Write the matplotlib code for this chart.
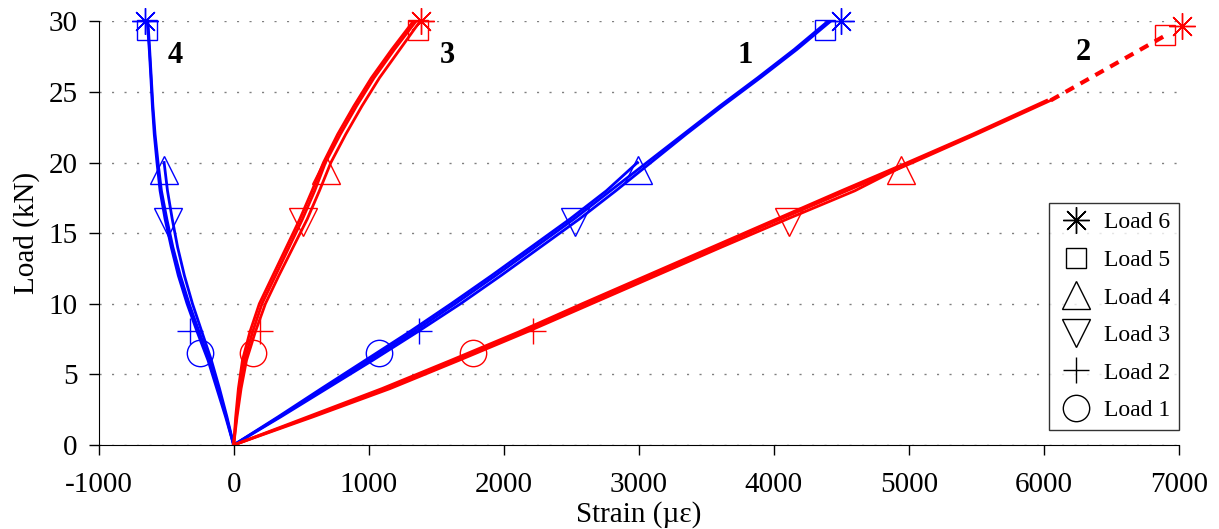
import numpy as np
from matplotlib import pyplot as plt
from matplotlib.lines import Line2D

plt.rcParams['font.family'] = ['Liberation Serif', 'DejaVu Serif']
plt.rcParams['axes.unicode_minus'] = False

# load levels (kN) used for the measured curves
loads = [0, 2, 4, 6, 8, 10, 12, 14, 16, 18, 20, 22, 24, 26, 28, 30]
loads_g2 = [0, 2, 4, 6, 8, 10, 12, 14, 16, 18, 20, 22, 24.4]

# gauge 1 (blue) - three runs
g1_a = [0, 340, 670, 1000, 1330, 1640, 1940, 2230, 2520, 2790, 3060, 3330, 3600, 3880, 4150, 4400]
g1_b = [0, 350, 690, 1030, 1360, 1680, 1980, 2270, 2560, 2830, 3090, 3350, 3620, 3900, 4170, 4420]
g1_c = [0, 330, 650, 975, 1300, 1610, 1910, 2200, 2490, 2760, 2990]

# gauge 2 (red)
g2_a = [0, 570, 1130, 1640, 2140, 2610, 3090, 3570, 4050, 4540, 5030, 5500, 6050]
g2_b = [0, 550, 1100, 1610, 2110, 2580, 3060, 3540, 4020, 4500, 4990, 5470, 6020]
g2_c = [0, 590, 1160, 1670, 2170, 2650, 3130, 3610, 4100, 4600, 5010]
g2_extrap_x = [6050, 6900]
g2_extrap_y = [24.4, 29.0]

# gauge 3 (red)
g3_a = [0, 20, 45, 80, 140, 210, 310, 410, 510, 600, 680, 790, 910, 1040, 1190, 1350]
g3_b = [0, 15, 35, 65, 120, 190, 290, 390, 490, 580, 665, 770, 890, 1020, 1170, 1330]
g3_c = [0, 25, 55, 95, 160, 235, 335, 440, 545, 635, 720, 830, 950, 1080, 1230, 1380]

# gauge 4 (blue)
g4_a = [0, -60, -125, -190, -270, -345, -410, -462, -508, -545, -568, -588, -602, -613, -625, -640]
g4_b = [0, -55, -115, -180, -255, -330, -395, -450, -495, -535, -560, -582, -598, -610, -622, -635]
g4_c = [0, -50, -105, -165, -235, -305, -365, -415, -455, -490, -515]

# load step markers: Load 1..6
marker_loads = [6.5, 8.1, 15.8, 19.5, 29.4, 30.0]
g1_marks = [1078, 1375, 2525, 2995, 4380, 4500]
g2_marks = [1770, 2215, 4110, 4940, 6899, 7022]
g2_mark_loads = [6.5, 8.1, 15.8, 19.5, 29.0, 29.7]
g3_marks = [145, 197, 510, 680, 1368, 1385]
g4_marks = [-248, -322, -485, -515, -642, -655]

load_names = ['Load 1', 'Load 2', 'Load 3', 'Load 4', 'Load 5', 'Load 6']
markers = ['o', '+', 'v', '^', 's', (8, 2, 0)]
msizes = [19, 19, 20, 20, 15, 19]

gauge_labels = ['1', '2', '3', '4']
gauge_label_x = [3790, 6290, 1585, -430]
gauge_label_y = [27.6, 27.8, 27.6, 27.6]

blue = '#0000ff'
red = '#ff0000'

fig = plt.figure(figsize=(12.19, 5.29), dpi=100)
ax = fig.add_axes([0.0809, 0.1588, 0.8863, 0.801])

lw = 2.0
for s in (g1_a, g1_b, g1_c):
    ax.plot(s, loads[:len(s)], color=blue, lw=lw)
for s in (g4_a, g4_b, g4_c):
    ax.plot(s, loads[:len(s)], color=blue, lw=lw)
for s in (g3_a, g3_b, g3_c):
    ax.plot(s, loads[:len(s)], color=red, lw=lw)
for s in (g2_a, g2_b, g2_c):
    ax.plot(s, loads_g2[:len(s)], color=red, lw=lw)
ax.plot(g2_extrap_x, g2_extrap_y, color=red, lw=3, ls=(0, (2.3, 1.8)), clip_on=False)

def put_marks(xs, ys, color):
    for x, y, m, ms in zip(xs, ys, markers, msizes):
        ax.plot([x], [y], marker=m, ms=ms, mec=color, mfc='none', mew=1.0,
                ls='none', zorder=5, clip_on=False)

put_marks(g1_marks, marker_loads, blue)
put_marks(g4_marks, marker_loads, blue)
put_marks(g3_marks, marker_loads, red)
put_marks(g2_marks, g2_mark_loads, red)

for t, x, y in zip(gauge_labels, gauge_label_x, gauge_label_y):
    ax.text(x, y, t, fontsize=22, fontweight='bold', ha='center', va='center')

ax.set_xlim(-1000, 7000)
ax.set_ylim(0, 30)
ax.set_xticks(np.arange(-1000, 7001, 1000))
ax.set_yticks(np.arange(0, 31, 5))
ax.tick_params(direction='out', length=7.5, width=1, labelsize=21)
ax.tick_params(axis='x', pad=12)
ax.tick_params(axis='y', pad=7.5)
ax.spines['top'].set_visible(False)
ax.spines['right'].set_visible(False)
ax.grid(axis='y', color='gray', lw=1.0, ls=(0, (1.5, 7.5)))
ax.set_axisbelow(True)

ax.set_xlabel('Strain (µε)', fontsize=21, labelpad=2)
ax.set_ylabel('Load (kN)', fontsize=21, labelpad=6)

handles = [Line2D([], [], marker=m, ms=ms, mec='black', mfc='none', mew=1.0, ls='none')
           for m, ms in zip(markers, msizes)]
handles = handles[::-1]
names = load_names[::-1]
leg = ax.legend(handles, names, loc='lower right', bbox_to_anchor=(1.0, 0.0354),
                borderaxespad=0, fontsize=17, frameon=True, fancybox=False,
                edgecolor='black', labelspacing=0.68, handletextpad=0.44,
                borderpad=0.37, handlelength=1.5)
leg.get_frame().set_linewidth(1.0)

fig.savefig('out.png', dpi=100)
